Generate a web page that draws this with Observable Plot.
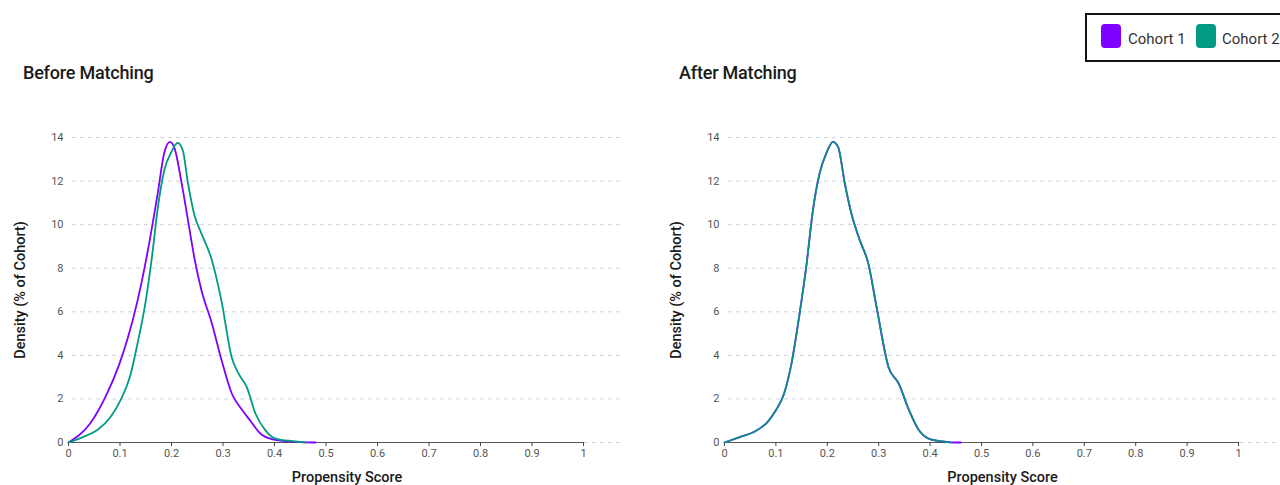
<!DOCTYPE html>
<html>
<head>
<meta charset="utf-8">
<script src="https://cdn.jsdelivr.net/npm/d3@7"></script>
<script src="https://cdn.jsdelivr.net/npm/@observablehq/plot@0.6"></script>
<style>
  html, body { margin: 0; padding: 0; background: #fff; }
  body { width: 1280px; height: 485px; position: relative; overflow: hidden; font-family: Roboto, "Noto Sans", sans-serif; }
  .title { position: absolute; font-size: 18px; font-weight: 500; color: #1a1a1a; letter-spacing: -0.2px; }
  .legend { position: absolute; left: 1085px; top: 13px; width: 210px; height: 45px; border: 2px solid #111; box-sizing: content-box; }
  .sw { position: absolute; top: 9px; width: 20px; height: 24px; border-radius: 4px; }
  .lt { position: absolute; top: 15px; font-size: 15px; color: #333; }
  .chart { position: absolute; top: 110px; }
</style>
</head>
<body>
<div class="title" style="left:23px; top:62px;">Before Matching</div>
<div class="title" style="left:679px; top:62px;">After Matching</div>
<div class="legend" id="legend"></div>
<div class="chart" id="left" style="left:0px;"></div>
<div class="chart" id="right" style="left:656px;"></div>
<script>
// ---- data ----
const cohorts = ["Cohort 1", "Cohort 2"];
const cohortColors = ["#8000ff", "#009b80"];
const xTicks = [0, 0.1, 0.2, 0.3, 0.4, 0.5, 0.6, 0.7, 0.8, 0.9, 1];
const yTicks = [0, 2, 4, 6, 8, 10, 12, 14];

// Before matching, Cohort 1
const beforeC1X = [0, 0.042, 0.075, 0.098, 0.114, 0.134, 0.154, 0.173, 0.186, 0.197, 0.206, 0.219, 0.232, 0.245, 0.258, 0.278, 0.297, 0.317, 0.337, 0.353, 0.373, 0.395, 0.42, 0.45, 0.48];
const beforeC1Y = [0, 0.87, 2.25, 3.55, 4.7, 6.5, 8.8, 11.4, 13.3, 13.8, 13.5, 12.0, 10.2, 8.4, 7.0, 5.5, 3.8, 2.25, 1.5, 1.0, 0.4, 0.15, 0.06, 0.02, 0];
// Before matching, Cohort 2
const beforeC2X = [0, 0.029, 0.056, 0.082, 0.101, 0.121, 0.134, 0.150, 0.163, 0.173, 0.186, 0.199, 0.212, 0.222, 0.232, 0.245, 0.258, 0.278, 0.297, 0.317, 0.330, 0.346, 0.363, 0.382, 0.402, 0.435, 0.46];
const beforeC2Y = [0, 0.26, 0.57, 1.18, 1.94, 3.17, 4.54, 6.5, 8.7, 10.7, 12.5, 13.3, 13.75, 13.4, 11.9, 10.4, 9.6, 8.4, 6.5, 3.9, 3.17, 2.55, 1.33, 0.57, 0.18, 0.06, 0];
// After matching, Cohort 1
const afterC1X = [0, 0.031, 0.058, 0.084, 0.1, 0.116, 0.129, 0.146, 0.159, 0.172, 0.185, 0.198, 0.211, 0.221, 0.234, 0.247, 0.263, 0.280, 0.296, 0.319, 0.339, 0.359, 0.378, 0.397, 0.424, 0.44, 0.46];
const afterC1Y = [0, 0.26, 0.49, 0.95, 1.48, 2.25, 3.47, 5.9, 8.06, 10.66, 12.35, 13.27, 13.8, 13.57, 11.9, 10.5, 9.3, 8.2, 6.2, 3.47, 2.7, 1.48, 0.57, 0.18, 0.05, 0.01, 0];
// After matching, Cohort 2
const afterC2X = [0, 0.031, 0.058, 0.084, 0.1, 0.116, 0.129, 0.146, 0.159, 0.172, 0.185, 0.198, 0.211, 0.221, 0.234, 0.247, 0.263, 0.280, 0.296, 0.319, 0.339, 0.359, 0.378, 0.397, 0.424, 0.44];
const afterC2Y = [0, 0.26, 0.49, 0.95, 1.48, 2.25, 3.47, 5.9, 8.06, 10.66, 12.35, 13.27, 13.8, 13.57, 11.9, 10.5, 9.3, 8.2, 6.2, 3.47, 2.7, 1.48, 0.57, 0.18, 0.05, 0];

function rows(xs, ys, cohort) { return xs.map((x, i) => ({x, y: ys[i], cohort})); }

function makeChart(c1, c2, width, marginRight, gridExtend, topOpacity) {
  return Plot.plot({
    width, height: 375,
    marginLeft: 68, marginRight, marginTop: 27, marginBottom: 43,
    style: {fontFamily: "Roboto, sans-serif", fontSize: "11px", color: "#555", overflow: "visible"},
    x: {domain: [0, 1]},
    y: {domain: [0, 14]},
    marks: [
      Plot.ruleY(yTicks, {stroke: "#cfd5dc", strokeDasharray: "4,4", strokeWidth: 1, insetLeft: 4, insetRight: -gridExtend}),
      Plot.ruleY([0], {stroke: "#555", strokeWidth: 1.2}),
      Plot.axisY({ticks: yTicks, tickSize: 0, tickPadding: 5, label: null, tickFormat: d => String(d)}),
      Plot.axisX({ticks: xTicks, tickSize: 4, tickPadding: 3, label: null, stroke: "#444", tickFormat: d => String(d)}),
      Plot.line(c1, {x: "x", y: "y", stroke: cohortColors[0], strokeWidth: 1.8, curve: "monotone-x"}),
      Plot.line(c2, {x: "x", y: "y", stroke: cohortColors[1], strokeWidth: 1.8, strokeOpacity: topOpacity, curve: "monotone-x"}),
      Plot.text(["Propensity Score"], {frameAnchor: "bottom", dy: 39, dx: 21, fontSize: 14.5, fontWeight: 500, fill: "#1a1a1a"}),
      Plot.text(["Density (% of Cohort)"], {frameAnchor: "left", textAnchor: "middle", rotate: -90, dx: -48, fontSize: 14.5, fontWeight: 500, fill: "#1a1a1a"})
    ]
  });
}

document.getElementById("left").append(
  makeChart(rows(beforeC1X, beforeC1Y, cohorts[0]), rows(beforeC2X, beforeC2Y, cohorts[1]), 640, 57, 40, 1));
document.getElementById("right").append(
  makeChart(rows(afterC1X, afterC1Y, cohorts[0]), rows(afterC2X, afterC2Y, cohorts[1]), 624, 42, 42, 0.9));

// legend
const legend = document.getElementById("legend");
const swLeft = [14, 109], txtLeft = [41, 135];
cohorts.forEach((c, i) => {
  const s = document.createElement("div");
  s.className = "sw"; s.style.left = swLeft[i] + "px"; s.style.background = cohortColors[i];
  legend.append(s);
  const t = document.createElement("div");
  t.className = "lt"; t.style.left = txtLeft[i] + "px"; t.textContent = c;
  legend.append(t);
});
</script>
</body>
</html>
